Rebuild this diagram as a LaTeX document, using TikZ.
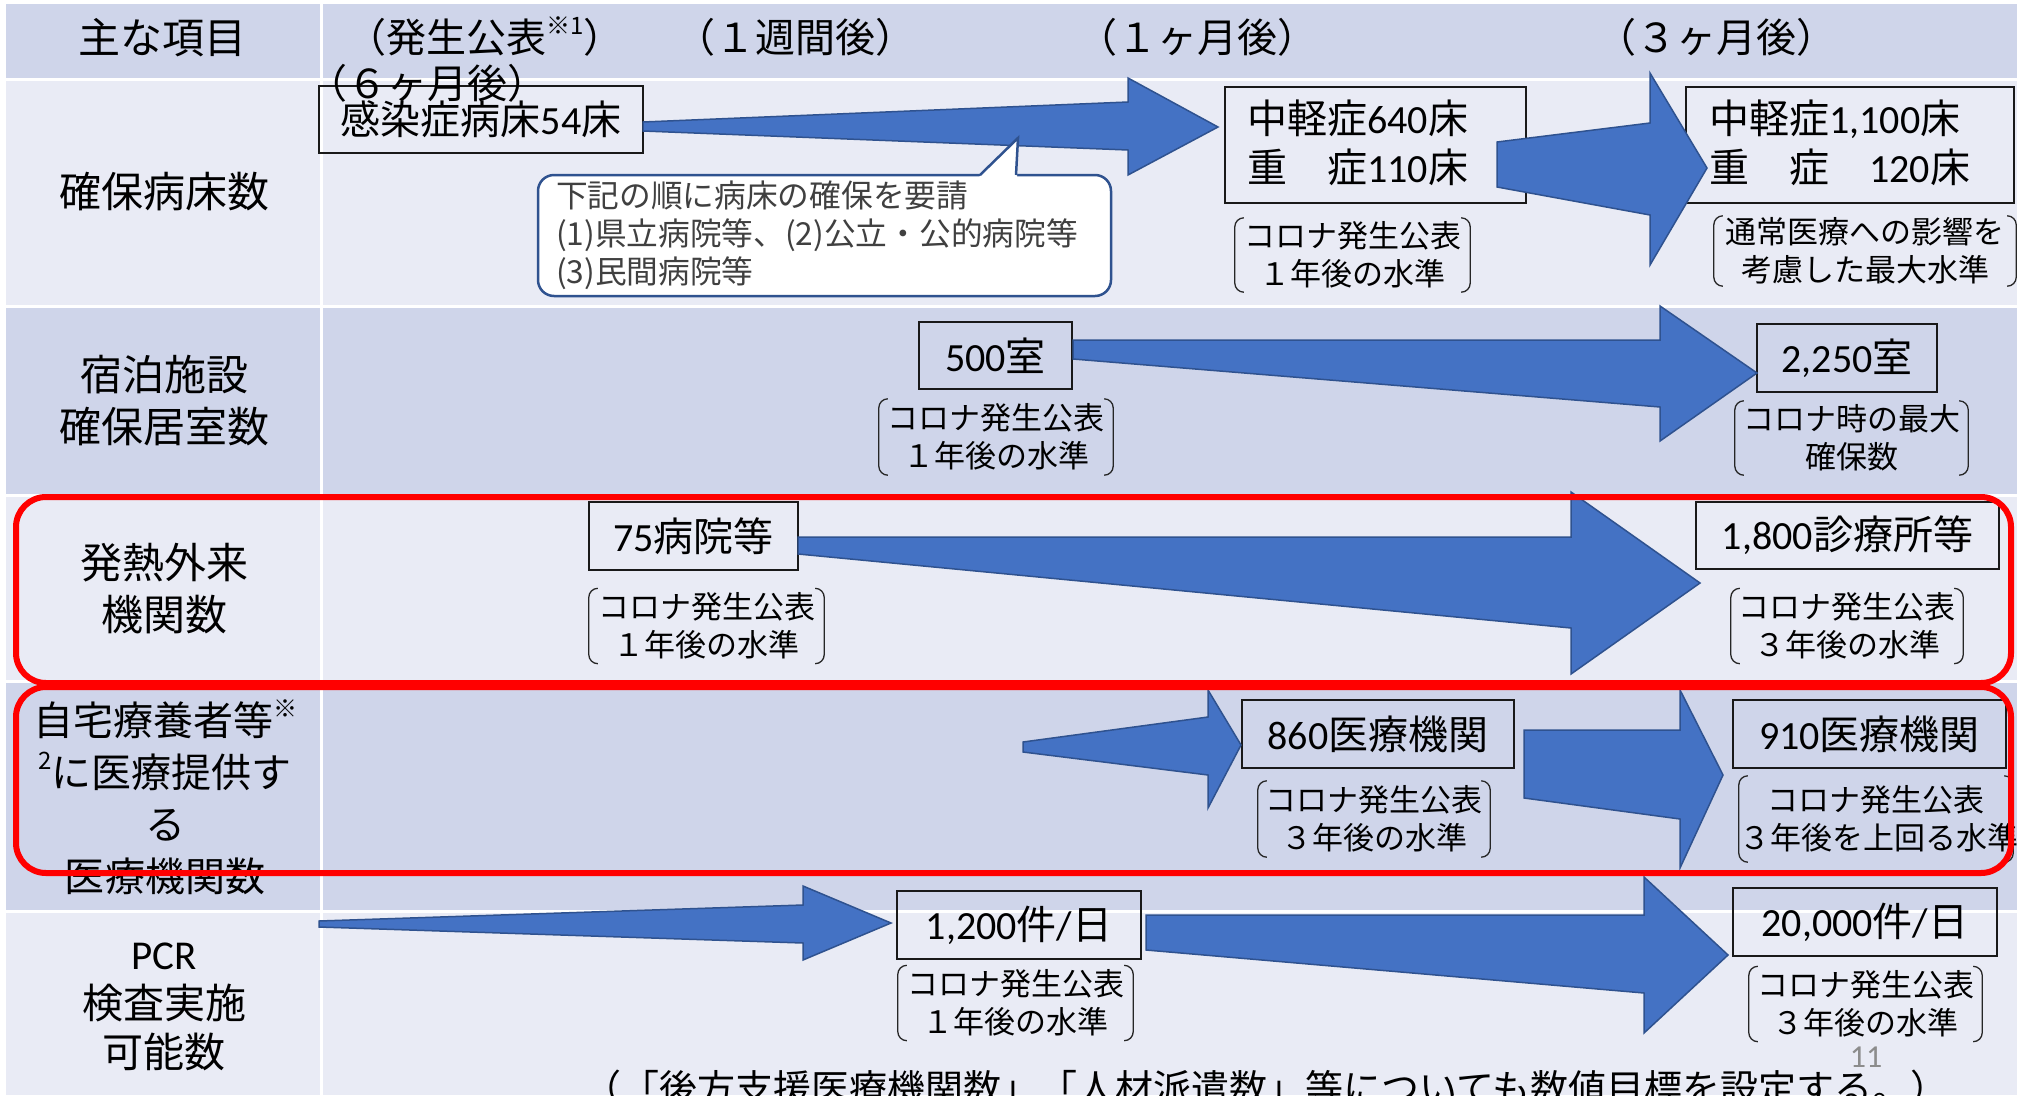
\documentclass[tikz,border=0pt]{standalone}
\usepackage{fontspec}
\setmainfont{Noto Sans CJK JP}
\newfontfamily\lat{Carlito}
\usetikzlibrary{calc}
\definecolor{hdr}{HTML}{CFD5EA}
\definecolor{lite}{HTML}{E9EBF5}
\definecolor{arrfill}{HTML}{4472C4}
\definecolor{arredge}{HTML}{2F528F}
\definecolor{callbd}{HTML}{2F528F}
\definecolor{redbd}{HTML}{FF0000}
\definecolor{pgnum}{HTML}{8C8C8C}
\definecolor{calltxt}{HTML}{404040}
\newcommand{\fsz}[2]{\fontsize{#1}{#2}\selectfont}
\newcommand{\sups}[1]{\raisebox{0.45em}{\fontsize{24}{24}\selectfont #1}}
\newcommand{\blockarr}[9]{\draw[blockarrow] (#1,#2) -- (#4,#5) -- (#4,#7) -- #9 -- (#4,#8) -- (#4,#6) -- (#1,#3) -- cycle;}
\newcommand{\brackets}[1]{%
  \draw[brk] ([xshift=9pt]#1.north west) -- (#1.north west) -- (#1.south west) -- ([xshift=9pt]#1.south west);
  \draw[brk] ([xshift=-9pt]#1.north east) -- (#1.north east) -- (#1.south east) -- ([xshift=-9pt]#1.south east);}
\tikzset{
  hdrtxt/.style={font=\fsz{40}{48}, inner sep=0pt},
  rowlabel/.style={font=\fsz{42}{52}, align=center, inner sep=0pt},
  valbox/.style={draw=black!90, line width=1.8pt, inner sep=0pt, font=\fsz{40}{48}},
  valtxt/.style={font=\fsz{40}{49}, align=left, inner sep=0pt},
  bnote/.style={text width=#1, align=center, inner sep=0pt, font=\fsz{31}{38}},
  brk/.style={line width=1.3pt, draw=black!85, rounded corners=9pt},
  blockarrow/.style={fill=arrfill, draw=arredge, line width=1.5pt, line join=miter},
  redframe/.style={draw=redbd, line width=6pt, rounded corners=30pt},
  callbox/.style={draw=callbd, line width=2.5pt, fill=white, rounded corners=16pt,
    minimum width=573pt, minimum height=121pt, text width=537pt, align=left,
    inner xsep=18pt, inner ysep=0pt, font=\fsz{31.7}{38}, text=calltxt},
}
\begin{document}
\begin{tikzpicture}[x=1pt,y=-1pt]
\useasboundingbox (0,0) rectangle (2017,1095);
\clip (0,0) rectangle (2017,1095);
\fill[white] (0,0) rectangle (2017,1095);
% table cells
\fill[hdr]  (6,4) rectangle (320,78);
\fill[hdr]  (323,4) rectangle (2017,78);
\fill[lite] (6,80.5) rectangle (320,305);
\fill[lite] (323,80.5) rectangle (2017,305);
\fill[hdr]  (6,308) rectangle (320,494);
\fill[hdr]  (323,308) rectangle (2017,494);
\fill[lite] (6,497) rectangle (320,680);
\fill[lite] (323,497) rectangle (2017,680);
\fill[hdr]  (6,683) rectangle (320,910);
\fill[hdr]  (323,683) rectangle (2017,910);
\fill[lite] (6,913) rectangle (320,1095);
\fill[lite] (323,913) rectangle (2017,1095);

% header texts
\node[hdrtxt, font=\fsz{42}{48}] (h0) at (162,38) {主な項目};
\node[hdrtxt] (h1) at (485,37) {（発生公表\sups{※1}）};
\node[hdrtxt] (h3) at (795,37) {（１週間後）};
\node[hdrtxt] (h4) at (1197,37) {（１ヶ月後）};
\node[hdrtxt] (h5) at (1716,37) {（３ヶ月後）};

% row labels
\node[rowlabel] (l1) at (164,192) {確保病床数};
\node[rowlabel] (l2) at (164,401) {宿泊施設\\確保居室数};
\node[rowlabel] (l3) at (164,589) {発熱外来\\機関数};
\node[rowlabel, font=\fsz{40}{52}] (l4) at (165,797) {自宅療養者等\sups{※}\\\sups{2}に医療提供す\\る\\医療機関数};
\node[rowlabel, font=\fsz{41}{49}] (l5) at (164,1007) {{\lat PCR}\\検査実施\\可能数};

% value boxes
\node[valbox, minimum width=324pt, minimum height=67pt] (b1) at (481,119.5) {感染症病床{\lat 54}床};
\node[valbox, minimum width=301pt, minimum height=116pt] (b2) at (1375.5,145) {};
\node[valtxt, anchor=west] (t2) at (1247,143) {中軽症{\lat 640}床\\重　症{\lat 110}床};
\node[valbox, minimum width=328pt, minimum height=116pt] (b3) at (1850,145) {};
\node[valtxt, anchor=west] (t3) at (1709,143) {中軽症{\lat 1,100}床\\重　症　{\lat 120}床};
\node[valbox, minimum width=153pt, minimum height=67pt] (b4) at (995.5,355.5) {{\lat 500}室};
\node[valbox, minimum width=180pt, minimum height=68pt] (b5) at (1847,358) {{\lat 2,250}室};
\node[valbox, minimum width=209pt, minimum height=68pt] (b6) at (693.5,536) {{\lat 75}病院等};
\node[valbox, minimum width=303pt, minimum height=67pt] (b7) at (1847.5,535.5) {{\lat 1,800}診療所等};
\node[valbox, minimum width=272pt, minimum height=68pt] (b8) at (1378,734) {{\lat 860}医療機関};
\node[valbox, minimum width=273pt, minimum height=68pt] (b9) at (1869.5,734) {{\lat 910}医療機関};
\node[valbox, minimum width=244pt, minimum height=68pt] (b10) at (1019,925) {{\lat 1,200}件{\lat /}日\hspace{26pt}};
\node[valbox, minimum width=264pt, minimum height=68pt] (b11) at (1865,922) {{\lat 20,000}件{\lat /}日};

% header second line (overlaps box)
\node[hdrtxt] (h2) at (427,83) {（６ヶ月後）};

% bracket notes
\node[bnote=235pt, minimum height=74pt] (n1) at (1352.5,255) {コロナ発生公表\\１年後の水準}; \brackets{n1}
\node[bnote=302pt, minimum height=70pt] (n2) at (1865,251) {通常医療への影響を\\考慮した最大水準}; \brackets{n2}
\node[bnote=234pt, minimum height=76pt] (n3) at (996,437) {コロナ発生公表\\１年後の水準}; \brackets{n3}
\node[bnote=233pt, minimum height=74pt] (n4) at (1851.5,438) {コロナ時の最大\\確保数}; \brackets{n4}
\node[bnote=235pt, minimum height=75pt] (n5) at (706.5,626) {コロナ発生公表\\１年後の水準}; \brackets{n5}
\node[bnote=232pt, minimum height=75pt] (n6) at (1847,626) {コロナ発生公表\\３年後の水準}; \brackets{n6}
\node[bnote=232pt, minimum height=76pt] (n7) at (1374,819) {コロナ発生公表\\３年後の水準}; \brackets{n7}
\node[bnote=274pt, minimum height=86pt] (n8) at (1876,819) {コロナ発生公表\\３年後を上回る水準}; \brackets{n8}
\node[bnote=235pt, minimum height=75pt] (n9) at (1015.5,1003) {コロナ発生公表\\１年後の水準}; \brackets{n9}
\node[bnote=233pt, minimum height=75pt] (n10) at (1865.5,1004) {コロナ発生公表\\３年後の水準}; \brackets{n10}

% block arrows
\blockarr{643}{122}{131}{1128}{102}{150}{78}{175}{(1218,127)}
\blockarr{1497}{142}{187}{1650}{123}{215}{73}{265}{(1707,168)}
\blockarr{1073}{340}{359}{1660}{340}{407}{306}{441}{(1757,373)}
\blockarr{798}{537}{554}{1571}{537}{628}{492}{674}{(1700,583)}
\blockarr{1023}{742}{752}{1208}{717}{775}{690}{808}{(1241,745)}
\blockarr{1524}{730}{798}{1680}{730}{819}{690}{868}{(1723,775)}
\blockarr{319}{921}{927}{803}{905}{943}{886}{960}{(891,923)}
\blockarr{1146}{915}{950}{1644}{915}{993}{877}{1033}{(1728,955)}

% callout
\node[callbox] (co) at (824.5,235.5) {下記の順に病床の確保を要請\\(1)県立病院等、(2)公立・公的病院等\\(3)民間病院等};
\fill[white] (979,177) -- (1018,138) -- (1017,177) -- cycle;
\draw[callbd, line width=2.5pt, line join=miter] (980,175) -- (1018,138) -- (1016,175);

% red frames
\draw[redframe] (16,497) rectangle (2011,683);
\draw[redframe] (16,687) rectangle (2011,873);

% bottom text and page number
\node[font=\fsz{38}{38}, inner sep=0pt] (bt) at (1266,1088) {（「後方支援医療機関数」「人材派遣数」等についても数値目標を設定する。）};
\node[font=\lat\fsz{32}{32}, text=pgnum, inner sep=0pt] (pg) at (1866,1057) {11};
\end{tikzpicture}
\end{document}
